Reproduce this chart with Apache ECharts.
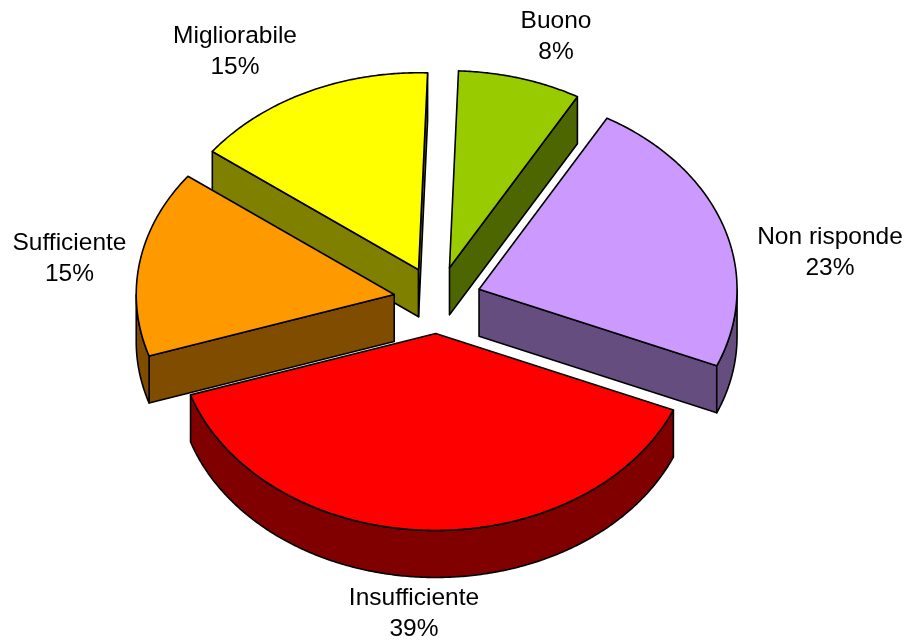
<!DOCTYPE html>
<html>
<head>
<meta charset="utf-8">
<title>Giudizio</title>
<style>html,body{margin:0;padding:0;background:#fff}#chart{width:907px;height:640px}</style>
<script src="https://cdn.jsdelivr.net/npm/echarts@6/dist/echarts.min.js"></script>
</head>
<body>
<div id="chart"></div>
<script>
// Data, clockwise from the top of the pie
var categories = ['Buono', 'Non risponde', 'Insufficiente', 'Sufficiente', 'Migliorabile'];
var shares = [7.7, 23.1, 38.6, 15.3, 15.3];
var topColors = ['#99CC00', '#CC99FF', '#FF0000', '#FF9900', '#FFFF00'];
var sideColors = ['#4D6600', '#664D80', '#800000', '#804D00', '#808000'];

// Layout of the drawing (not data)
var pie = { cx: 437.5, cy: 300, rx: 258, ry: 197, depth: 47, explode: 0.17, startDeg: 2 };
var labelCentres = [[556, 37], [830, 252.5], [414, 613.5], [69.5, 258.5], [235, 52]];

var total = shares.reduce(function (a, b) { return a + b; }, 0);
var spans = [], acc = pie.startDeg;
shares.forEach(function (v) {
  var a = v / total * 360;
  spans.push([acc, acc + a]);
  acc += a;
});
function rad(d) { return d * Math.PI / 180; }
function midOf(i) { return (spans[i][0] + spans[i][1]) / 2; }
var paintRank = categories.map(function (_, i) { return i; })
  .sort(function (a, b) { return Math.cos(rad(midOf(b))) - Math.cos(rad(midOf(a))); });

function renderItem(params, api) {
  var i = params.dataIndex;
  var start = spans[i][0], end = spans[i][1], mid = midOf(i);
  var z = paintRank.indexOf(i) * 10;
  var ax = pie.cx + pie.explode * pie.rx * Math.sin(rad(mid));
  var ay = pie.cy - pie.explode * pie.ry * Math.cos(rad(mid));
  function rim(t, dz) {
    return [ax + pie.rx * Math.sin(rad(t)), ay - pie.ry * Math.cos(rad(t)) + (dz || 0)];
  }
  function arc(a, b, dz) {
    var pts = [], n = Math.max(2, Math.ceil(Math.abs(b - a) * 2));
    for (var k = 0; k <= n; k++) pts.push(rim(a + (b - a) * k / n, dz));
    return pts;
  }
  var line = { stroke: '#000', lineWidth: 1.6, lineJoin: 'round' };
  function poly(points, fill, zz) {
    return { type: 'polygon', z2: z + zz, silent: true, shape: { points: points },
      style: Object.assign({ fill: fill }, line) };
  }
  var side = sideColors[i], children = [];
  var apexLow = [ax, ay + pie.depth];
  if (Math.sin(rad(start)) < 0) {
    children.push(poly([[ax, ay], rim(start), rim(start, pie.depth), apexLow], side, 1));
  }
  if (Math.sin(rad(end)) > 0) {
    children.push(poly([[ax, ay], rim(end), rim(end, pie.depth), apexLow], side, 1));
  }
  var a0 = Math.max(start, 90), a1 = Math.min(end, 270);
  if (a1 > a0) {
    children.push(poly(arc(a0, a1, 0).concat(arc(a1, a0, pie.depth)), side, 2));
  }
  children.push(poly([[ax, ay]].concat(arc(start, end, 0)), api.visual('color'), 3));
  var c = labelCentres[i];
  children.push({
    type: 'text', z2: 100, silent: true,
    style: {
      x: c[0], y: c[1], align: 'center', verticalAlign: 'middle',
      text: categories[i] + '\n' + Math.round(api.value(0)) + '%',
      fontFamily: '"Liberation Sans", Arial, sans-serif', fontSize: 24.5, lineHeight: 31, fill: '#000'
    }
  });
  return { type: 'group', children: children };
}

var chart = echarts.init(document.getElementById('chart'), null, { renderer: 'canvas' });
chart.setOption({
  animation: false,
  backgroundColor: '#fff',
  series: [{
    type: 'custom',
    coordinateSystem: 'none',
    renderItem: renderItem,
    data: shares.map(function (v, i) {
      return { name: categories[i], value: [v], itemStyle: { color: topColors[i] } };
    })
  }]
});
</script>
</body>
</html>
